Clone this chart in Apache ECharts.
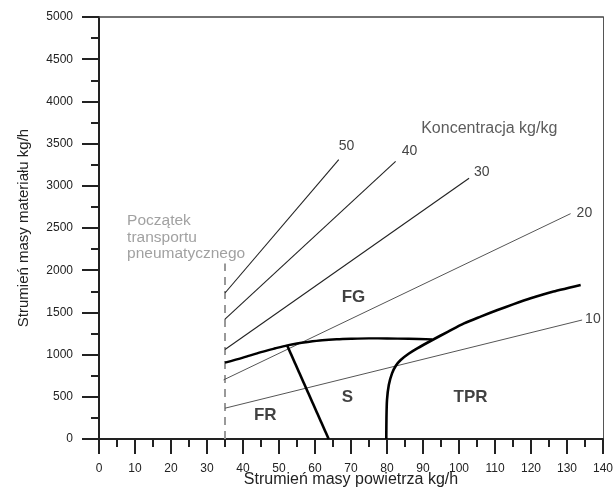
<!DOCTYPE html>
<html>
<head>
<meta charset="utf-8">
<script src="https://cdn.jsdelivr.net/npm/echarts@6/dist/echarts.min.js"></script>
<style>
  html, body { margin: 0; padding: 0; background: #fff; }
  #chart { width: 613px; height: 489px; }
</style>
</head>
<body>
<div id="chart"></div>
<script>
// concentration lines (kg/kg): start and end points
const concentrations = ['50', '40', '30', '20', '10']
const concLines = [
  [[35, 1730], [66.6, 3310]],
  [[35, 1420], [82.4, 3290]],
  [[35, 1060], [102.8, 3090]],
  [[34.6, 700], [131, 2670]],
  [[35, 365], [134.2, 1410]],
]

// thick regime boundaries
const boundaryFG = [
  [35, 905], [40, 965], [45, 1030], [49, 1075], [52.3, 1110], [55, 1132], [58, 1150],
  [62, 1170], [66, 1182], [70, 1188], [75, 1192], [80, 1191], [86, 1187], [92.6, 1180],
]
const boundaryFR = [[52.3, 1105], [63.8, 0]]
const boundaryTPR = [
  [79.8, 0], [79.85, 250], [80, 462], [80.5, 640], [81.4, 778], [82.5, 870],
  [83.8, 936], [86, 1010], [88.4, 1074], [92.6, 1173], [97, 1273], [101.4, 1370],
  [106, 1450], [110.7, 1528], [115, 1595], [119.9, 1667], [126, 1745], [133.8, 1825],
]
const pneumaticStart = [[35, 0], [35, 2080]]

// text annotations placed in data coordinates
const regionLabels = [
  { name: 'FG', value: [70.7, 1682] },
  { name: 'FR', value: [46.2, 284] },
  { name: 'S', value: [69, 498] },
  { name: 'TPR', value: [103.2, 498] },
]
const concTitle = { name: 'Koncentracja kg/kg', value: [108.4, 3675] }
const startNote = { name: 'Początek\ntransportu\npneumatycznego', value: [7.8, 2390] }

const labelOffsets = [[0, -13], [6, -10], [5, -6], [6, -1], [3, -1]]

const chart = echarts.init(document.getElementById('chart'))

const concSeries = concLines.map((pts, i) => ({
  name: concentrations[i],
  type: 'line',
  data: pts,
  symbol: 'none',
  silent: true,
  lineStyle: { color: i < 3 ? '#222' : '#555', width: i < 3 ? 1.1 : 1 },
  endLabel: {
    show: true,
    formatter: concentrations[i],
    distance: 0,
    offset: labelOffsets[i],
    color: '#444',
    fontSize: 14,
  },
  z: 3,
}))

const tickStyle = { color: '#222', width: 2 }

chart.setOption({
  animation: false,
  textStyle: { fontFamily: '"Liberation Sans", Arial, sans-serif' },
  grid: { left: 99, right: 10, top: 17, bottom: 50, outerBoundsMode: 'none' },
  xAxis: [
    {
      type: 'value',
      min: 0,
      max: 140,
      interval: 10,
      name: 'Strumień masy powietrza kg/h',
      nameLocation: 'middle',
      nameGap: 33,
      nameMoveOverlap: false,
      nameTextStyle: { fontSize: 16, color: '#222' },
      axisLine: { onZero: false, lineStyle: tickStyle },
      axisTick: { length: 15, lineStyle: tickStyle },
      minorTick: { show: true, splitNumber: 2, length: 8, lineStyle: tickStyle },
      axisLabel: { fontSize: 12, color: '#222', margin: 24 },
      splitLine: { show: false },
    },
    {
      type: 'value',
      position: 'top',
      min: 0,
      max: 140,
      axisLine: { onZero: false, lineStyle: { color: '#444', width: 1.5 } },
      axisTick: { show: false },
      axisLabel: { show: false },
      splitLine: { show: false },
    },
  ],
  yAxis: [
    {
      type: 'value',
      min: 0,
      max: 5000,
      interval: 500,
      name: 'Strumień masy materiału kg/h',
      nameLocation: 'middle',
      nameGap: 68,
      nameMoveOverlap: false,
      nameTextStyle: { fontSize: 15, color: '#222' },
      axisLine: { onZero: false, lineStyle: tickStyle },
      axisTick: { length: 17, lineStyle: tickStyle },
      minorTick: { show: true, splitNumber: 2, length: 8, lineStyle: tickStyle },
      axisLabel: { fontSize: 12, color: '#222', margin: 26, formatter: v => String(v) },
      splitLine: { show: false },
    },
    {
      type: 'value',
      position: 'right',
      min: 0,
      max: 5000,
      axisLine: { onZero: false, lineStyle: { color: '#555', width: 1 } },
      axisTick: { show: false },
      axisLabel: { show: false },
      splitLine: { show: false },
    },
  ],
  series: [
    ...concSeries,
    {
      name: 'start',
      type: 'line',
      data: pneumaticStart,
      symbol: 'none',
      silent: true,
      lineStyle: { color: '#999', width: 2, type: [8, 6] },
      z: 2,
    },
    {
      name: 'FG',
      type: 'line',
      data: boundaryFG,
      smooth: 0.3,
      symbol: 'none',
      silent: true,
      lineStyle: { color: '#000', width: 2.4 },
      z: 4,
    },
    {
      name: 'FR',
      type: 'line',
      data: boundaryFR,
      symbol: 'none',
      silent: true,
      lineStyle: { color: '#000', width: 2.6 },
      z: 4,
    },
    {
      name: 'TPR',
      type: 'line',
      data: boundaryTPR,
      smooth: 0.25,
      symbol: 'none',
      silent: true,
      lineStyle: { color: '#000', width: 2.6 },
      z: 4,
    },
    {
      name: 'regions',
      type: 'scatter',
      data: regionLabels,
      symbolSize: 0,
      silent: true,
      label: {
        show: true,
        position: 'inside',
        formatter: p => p.name,
        fontSize: 17,
        fontWeight: 'bold',
        color: '#111',
      },
      z: 5,
    },
    {
      name: 'notes',
      type: 'scatter',
      data: [
        { ...concTitle, label: { color: '#333', fontSize: 16 } },
        { ...startNote, label: { align: 'left', color: '#8a8a8a', fontSize: 15.5, lineHeight: 16.5 } },
      ],
      symbolSize: 0,
      silent: true,
      label: {
        show: true,
        position: 'inside',
        formatter: p => p.name,
      },
      z: 5,
    },
  ],
})
</script>
</body>
</html>
